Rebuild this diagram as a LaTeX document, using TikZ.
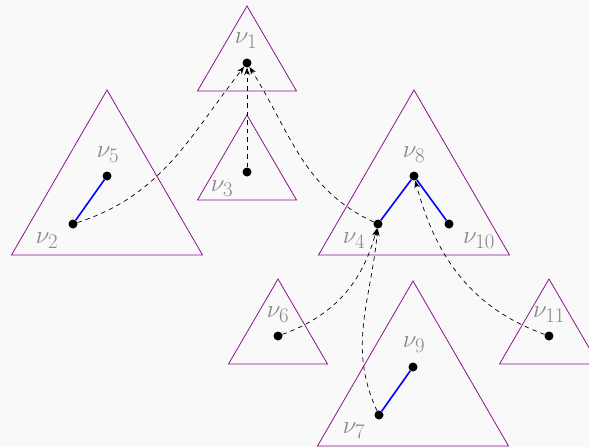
\documentclass[tikz,border=0pt]{standalone}
\usetikzlibrary{arrows.meta,calc}
\definecolor{treeBack}{RGB}{249,249,249}
\definecolor{treePurple}{RGB}{140,20,140}
\definecolor{treeGray}{RGB}{135,135,135}

\begin{document}
\begin{tikzpicture}[
  x=1pt, y=-1pt,
  vtx/.style={circle, fill=black, inner sep=0pt, minimum size=9pt},
  lbl/.style={text=treeGray, font=\fontsize{28}{30}\selectfont, inner sep=0pt},
  tri/.style={draw=treePurple, line width=0.8pt, line join=miter},
  tedge/.style={draw=blue, line width=1.6pt},
  link/.style={dash pattern=on 4.5pt off 4pt, line width=0.7pt, -{Stealth[length=7.5pt,width=5.5pt]}}
]
\fill[treeBack] (0,0) rectangle (589,447);
\useasboundingbox (0,0) rectangle (589,447);

% vertices
\node[vtx] (v1) at (247,63) {};
\node[vtx] (v3) at (247,172) {};
\node[vtx] (v2) at (73,224) {};
\node[vtx] (v5) at (107,176) {};
\node[vtx] (v4) at (378,224) {};
\node[vtx] (v8) at (414,176) {};
\node[vtx] (v10) at (449,224) {};
\node[vtx] (v6) at (278,336) {};
\node[vtx] (v7) at (379,415) {};
\node[vtx] (v9) at (413,367) {};
\node[vtx] (v11) at (549,336) {};

% labels
\node[lbl] (l1) at (246,41) {$\nu_1$};
\node[lbl] (l3) at (222,189) {$\nu_3$};
\node[lbl] (l2) at (47,241) {$\nu_2$};
\node[lbl] (l5) at (108,155) {$\nu_5$};
\node[lbl] (l4) at (354,241) {$\nu_4$};
\node[lbl] (l8) at (414,155) {$\nu_8$};
\node[lbl] (l10) at (479,241) {$\nu_{10}$};
\node[lbl] (l6) at (278,315) {$\nu_6$};
\node[lbl] (l7) at (354,431) {$\nu_7$};
\node[lbl] (l9) at (414,345) {$\nu_9$};
\node[lbl] (l11) at (549,315) {$\nu_{11}$};

% small and large triangles
\foreach \v in {v1,v3,v6,v11}
  \draw[tri] ($(\v)+(0,-57)$) -- ++(49.5,85) -- ++(-99,0) -- cycle;
\foreach \v in {v5,v8,v9}
  \draw[tri] ($(\v)+(0,-86)$) -- ++(95.5,165) -- ++(-191,0) -- cycle;

% tree edges
\draw[tedge] (v2) -- (v5);
\draw[tedge] (v4) -- (v8) -- (v10);
\draw[tedge] (v7) -- (v9);

% links
\draw[link] (v3) -- (v1);
\draw[link] (v2) to[out=18, in=-128] (v1);
\draw[link] (v4) to[out=155, in=-58] (v1);
\draw[link] (v6) to[out=20, in=-105] (v4);
\draw[link] (v7) to[out=115, in=-95] (v4);
\draw[link] (v11) to[out=160, in=-75] (v8);
\end{tikzpicture}
\end{document}
